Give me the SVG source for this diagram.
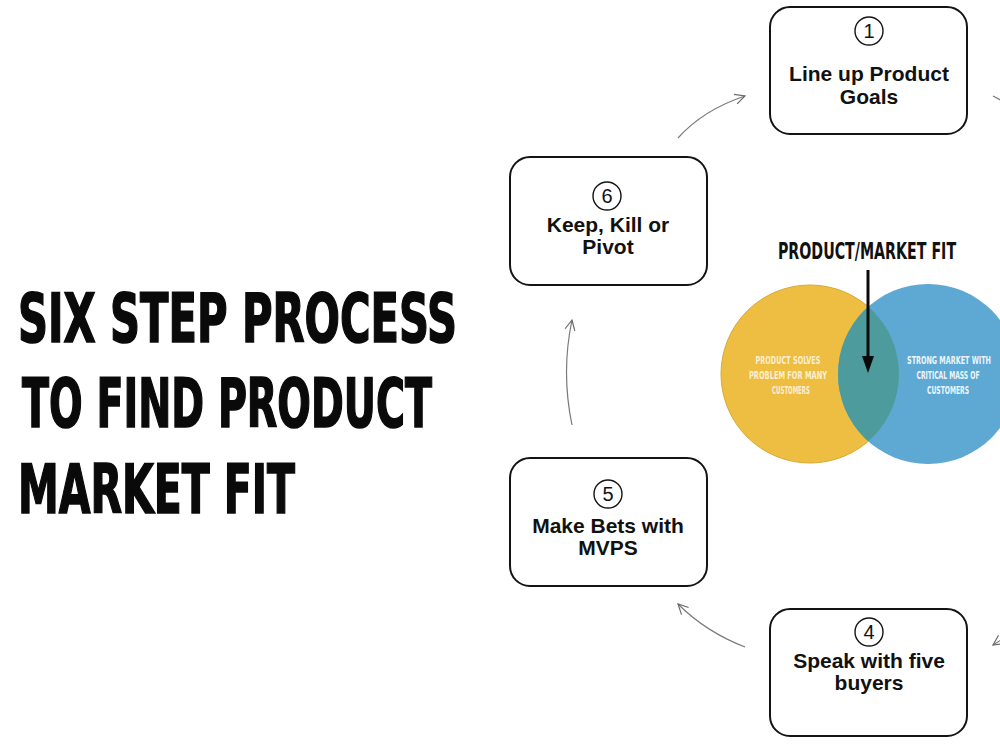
<svg xmlns="http://www.w3.org/2000/svg" width="1000" height="750" viewBox="0 0 1000 750">
<style>
.box{fill:#fff;stroke:#141414;stroke-width:2}
.num{fill:none;stroke:#141414;stroke-width:1.4}
.numt{font-family:"Liberation Sans",Arial,sans-serif;font-size:20px;fill:#111;text-anchor:middle}
.lbl{font-family:"Liberation Sans",Arial,sans-serif;font-size:21px;font-weight:bold;fill:#111;text-anchor:middle}
.title{font-family:"DejaVu Sans Condensed","DejaVu Sans",sans-serif;font-weight:bold;font-stretch:condensed;font-size:67px;fill:#0a0a0a;stroke:#0a0a0a;stroke-width:1.6}
.cond{font-family:"DejaVu Sans Condensed","DejaVu Sans",sans-serif;font-weight:bold;font-stretch:condensed}
.vt{font-size:11px;text-anchor:middle}
.conn{fill:none;stroke:#7a7a7a;stroke-width:1.2}
</style>
<defs>
<marker id="open" viewBox="0 0 12 12" refX="11" refY="6" markerWidth="12" markerHeight="12" markerUnits="userSpaceOnUse" orient="auto">
<path d="M1,1 L11,6 L1,11" fill="none" stroke="#6a6a6a" stroke-width="1.2"/>
</marker>
<clipPath id="blueclip"><circle cx="928" cy="374" r="90"/></clipPath>
</defs>
<rect width="1000" height="750" fill="#fff"/>

<g id="title">
<text class="title" x="18" y="342" textLength="439" lengthAdjust="spacingAndGlyphs">SIX STEP PROCESS</text>
<text class="title" x="22" y="427" textLength="410" lengthAdjust="spacingAndGlyphs">TO FIND PRODUCT</text>
<text class="title" x="18" y="513" textLength="277" lengthAdjust="spacingAndGlyphs">MARKET FIT</text>
</g>

<g id="connectors">
<path class="conn" d="M678,138 Q703,110 745,96" marker-end="url(#open)"/>
<path class="conn" d="M572,425 Q561,372 572,320" marker-end="url(#open)"/>
<path class="conn" d="M745,647 Q706,632 678,604" marker-end="url(#open)"/>
<path class="conn" d="M993,96 L1006,103"/>
<path class="conn" d="M1012,634 Q1002,639 993,645" marker-end="url(#open)"/>
</g>

<g id="step1">
<rect class="box" x="770" y="7" width="197" height="127" rx="20"/>
<circle class="num" cx="869" cy="31" r="14"/>
<text class="numt" x="869" y="38">1</text>
<text class="lbl" x="869" y="81">Line up Product</text>
<text class="lbl" x="869" y="104">Goals</text>
</g>

<g id="step6">
<rect class="box" x="510" y="157" width="197" height="128" rx="20"/>
<circle class="num" cx="607" cy="196" r="14"/>
<text class="numt" x="607" y="203">6</text>
<text class="lbl" x="608" y="232">Keep, Kill or</text>
<text class="lbl" x="608" y="254">Pivot</text>
</g>

<g id="step5">
<rect class="box" x="510" y="458" width="197" height="128" rx="20"/>
<circle class="num" cx="608" cy="494" r="14"/>
<text class="numt" x="608" y="501">5</text>
<text class="lbl" x="608" y="533">Make Bets with</text>
<text class="lbl" x="608" y="555">MVPS</text>
</g>

<g id="step4">
<rect class="box" x="770" y="609" width="197" height="127" rx="20"/>
<circle class="num" cx="869" cy="632" r="14"/>
<text class="numt" x="869" y="639">4</text>
<text class="lbl" x="869" y="668">Speak with five</text>
<text class="lbl" x="869" y="690">buyers</text>
</g>

<g id="venn">
<circle cx="810" cy="374" r="89" fill="#EDBE42" stroke="#d9a932" stroke-width="1"/>
<circle cx="928" cy="374" r="90" fill="#5EA9D4"/>
<circle cx="810" cy="374" r="89" fill="#4E9B9D" clip-path="url(#blueclip)"/>
<text class="cond" transform="translate(867,259) scale(0.6,1)" x="0" y="0" font-size="23" fill="#111" text-anchor="middle" textLength="297" lengthAdjust="spacingAndGlyphs">PRODUCT/MARKET FIT</text>
<g class="cond vt" fill="#FBEFD3">
<text transform="translate(788,364) scale(0.6,1)" textLength="108" lengthAdjust="spacingAndGlyphs">PRODUCT SOLVES</text>
<text transform="translate(788,379) scale(0.6,1)" textLength="130" lengthAdjust="spacingAndGlyphs">PROBLEM FOR MANY</text>
<text transform="translate(791,394) scale(0.6,1)" textLength="63" lengthAdjust="spacingAndGlyphs">CUSTOMERS</text>
</g>
<g class="cond vt" fill="#EEF5FA">
<text transform="translate(949,364) scale(0.6,1)" textLength="140" lengthAdjust="spacingAndGlyphs">STRONG MARKET WITH</text>
<text transform="translate(948,379) scale(0.6,1)" textLength="105" lengthAdjust="spacingAndGlyphs">CRITICAL MASS OF</text>
<text transform="translate(948,394) scale(0.6,1)" textLength="70" lengthAdjust="spacingAndGlyphs">CUSTOMERS</text>
</g>
<line x1="868" y1="270" x2="868" y2="360" stroke="#0a0a0a" stroke-width="3"/>
<path d="M862,356 L874,356 L868,373 Z" fill="#0a0a0a"/>
</g>
</svg>
